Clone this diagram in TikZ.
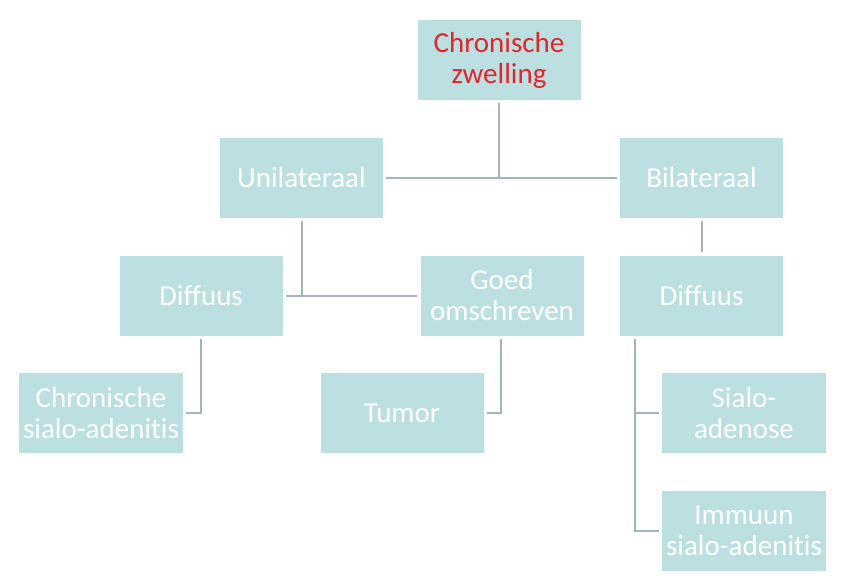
\documentclass[tikz,border=0pt]{standalone}
\usepackage{fontspec}
\setmainfont{Carlito}[Ligatures=NoCommon]
\definecolor{boxfill}{HTML}{BCDFE2}
\definecolor{linec}{HTML}{A2B6BA}
\definecolor{redtxt}{HTML}{E0262B}
\begin{document}
\begin{tikzpicture}[x=1pt,y=-1pt,
  box/.style={fill=boxfill, draw=none, text=white, align=center, inner sep=0pt,
    minimum width=163pt, minimum height=80pt,
    font=\fontsize{29}{31}\selectfont},
  conn/.style={draw=linec, line width=2pt, shorten <=3pt, shorten >=3pt}]
\useasboundingbox (0,0) rectangle (845,582);
\node[box, text=redtxt] (top) at (499,60) {Chronische\\zwelling};
\node[box] (unil) at (301.5,177.5) {Unilateraal};
\node[box] (bil) at (701.5,177.5) {Bilateraal};
\node[box] (diff1) at (201,295.5) {Diffuus};
\node[box] (goed) at (502,295.5) {Goed\\omschreven};
\node[box] (diff2) at (701.5,295.5) {Diffuus};
\node[box, minimum width=164pt] (chron) at (101,413) {Chronische\\sialo-adenitis};
\node[box] (tumor) at (402,413) {Tumor};
\node[box, minimum width=164pt] (sialo) at (744,413) {Sialo-\\adenose};
\node[box, minimum width=164pt] (immuun) at (744,531) {Immuun\\sialo-adenitis};
\draw[conn] (unil.east) -- (bil.west);
\draw[conn, shorten >=0pt] (top.south) -- (top.south |- unil.east);
\draw[conn] (diff1.east) -- (goed.west);
\draw[conn, shorten >=0pt] (unil.south) -- (unil.south |- diff1.east);
\draw[conn] (bil.south) -- (diff2.north);
\draw[conn] (diff1.south) |- (chron.east);
\draw[conn] ([xshift=-1pt]goed.south) |- (tumor.east);
\coordinate (d2a) at ([xshift=15pt]diff2.south west);
\draw[conn] (d2a) |- (sialo.west);
\draw[conn] (d2a) |- (immuun.west);
\end{tikzpicture}
\end{document}
